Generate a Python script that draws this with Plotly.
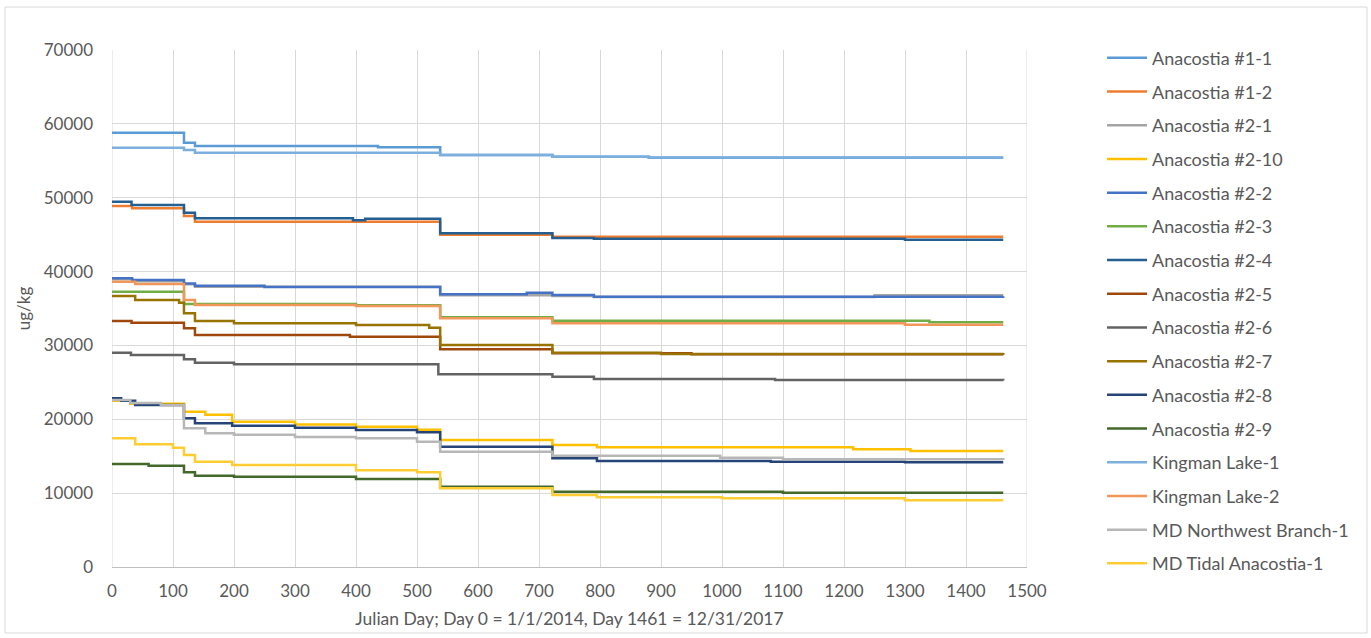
import plotly.graph_objects as go

# Step-wise concentration series (Julian day, ug/kg) for each sampling location
a11_days = [0, 118, 136, 436, 538, 722, 880, 1461]
a11_vals = [58800, 57450, 57000, 56820, 55800, 55550, 55400, 55400]

a12_days = [0, 33, 118, 136, 538, 722, 1461]
a12_vals = [48880, 48560, 47520, 46750, 45000, 44700, 44700]

a21_days = [0, 33, 118, 136, 538, 722, 790, 1250, 1461]
a21_vals = [38950, 38700, 38300, 37950, 36800, 36700, 36550, 36800, 36800]

a210_days = [0, 30, 118, 153, 197, 300, 400, 500, 538, 722, 795, 1215, 1309, 1461]
a210_vals = [22500, 22100, 21030, 20600, 19650, 19300, 19000, 18600, 17200, 16520, 16200, 15950, 15700, 15700]

a22_days = [0, 33, 118, 136, 250, 538, 680, 722, 790, 1461]
a22_vals = [39090, 38860, 38400, 38090, 37900, 36920, 37140, 36830, 36600, 36650]

a23_days = [0, 118, 400, 538, 722, 1340, 1461]
a23_vals = [37280, 35610, 35450, 33800, 33350, 33130, 33130]

a24_days = [0, 32, 118, 136, 395, 415, 538, 722, 790, 1300, 1461]
a24_vals = [49460, 49010, 47970, 47210, 46950, 47150, 45180, 44550, 44450, 44300, 44300]

a25_days = [0, 32, 118, 136, 390, 538, 722, 950, 1461]
a25_vals = [33310, 33080, 32310, 31410, 31180, 29470, 28950, 28800, 28750]

a26_days = [0, 31, 118, 136, 200, 535, 722, 790, 1087, 1461]
a26_vals = [29020, 28700, 28120, 27660, 27440, 26090, 25770, 25450, 25320, 25250]

a27_days = [0, 38, 110, 118, 136, 200, 400, 520, 538, 722, 900, 1461]
a27_vals = [36690, 36150, 35790, 34350, 33310, 33000, 32760, 32400, 30060, 29020, 28840, 28840]

a28_days = [0, 15, 38, 118, 136, 197, 300, 400, 500, 538, 722, 795, 1080, 1300, 1461]
a28_vals = [22840, 22500, 21930, 20130, 19460, 19140, 18860, 18550, 18240, 16290, 14710, 14350, 14260, 14170, 14170]

a29_days = [0, 60, 118, 136, 200, 400, 538, 722, 1100, 1461]
a29_vals = [13950, 13700, 12820, 12360, 12230, 11910, 10870, 10200, 10040, 10040]

kl1_days = [0, 118, 136, 538, 722, 880, 1461]
kl1_vals = [56770, 56460, 56100, 55800, 55550, 55450, 55450]

kl2_days = [0, 38, 118, 136, 400, 538, 722, 1300, 1461]
kl2_vals = [38630, 38320, 36150, 35470, 35340, 33670, 33000, 32800, 32800]

mdnw_days = [0, 30, 80, 118, 153, 200, 300, 400, 500, 538, 722, 997, 1100, 1461]
mdnw_vals = [22610, 22200, 21900, 18780, 18100, 17900, 17600, 17420, 16970, 15610, 15070, 14800, 14580, 14500]

mdta_days = [0, 38, 100, 118, 136, 197, 400, 500, 538, 722, 795, 1000, 1300, 1461]
mdta_vals = [17420, 16610, 16160, 15160, 14260, 13810, 13100, 12820, 10650, 9750, 9440, 9300, 9050, 9050]

series_names = [
    "Anacostia #1-1", "Anacostia #1-2", "Anacostia #2-1", "Anacostia #2-10",
    "Anacostia #2-2", "Anacostia #2-3", "Anacostia #2-4", "Anacostia #2-5",
    "Anacostia #2-6", "Anacostia #2-7", "Anacostia #2-8", "Anacostia #2-9",
    "Kingman Lake-1", "Kingman Lake-2", "MD Northwest Branch-1", "MD Tidal Anacostia-1",
]
series_days = [a11_days, a12_days, a21_days, a210_days, a22_days, a23_days, a24_days,
               a25_days, a26_days, a27_days, a28_days, a29_days, kl1_days, kl2_days,
               mdnw_days, mdta_days]
series_vals = [a11_vals, a12_vals, a21_vals, a210_vals, a22_vals, a23_vals, a24_vals,
               a25_vals, a26_vals, a27_vals, a28_vals, a29_vals, kl1_vals, kl2_vals,
               mdnw_vals, mdta_vals]
series_colors = [
    "#5B9BD5", "#ED7D31", "#A5A5A5", "#FFC000", "#4472C4", "#70AD47",
    "#255E91", "#9E480E", "#636363", "#997300", "#264478", "#43682B",
    "#7CAFDD", "#F1975A", "#B7B7B7", "#FFCD33",
]

FONT = "Lato"
TEXT = "#595959"
GRID = "#D9D9D9"

fig = go.Figure()
for name, days, vals, color in zip(series_names, series_days, series_vals, series_colors):
    fig.add_trace(go.Scatter(
        x=days, y=vals, mode="lines", name=name, legendgroup=name,
        line=dict(color=color, width=2.5, shape="hv"),
    ))

fig.update_layout(
    width=1371, height=638,
    margin=dict(l=112, r=344, t=50, b=71),
    paper_bgcolor="white", plot_bgcolor="white",
    font=dict(family=FONT, color=TEXT, size=17),
    showlegend=True,
    legend=dict(
        x=1.082, xanchor="left", y=1.02, yanchor="top",
        font=dict(family=FONT, size=18, color=TEXT),
        tracegroupgap=7.3, itemwidth=40,
        maxheight=620,
        bgcolor="rgba(0,0,0,0)",
    ),
    xaxis=dict(
        range=[0, 1500], dtick=100, tick0=0,
        showgrid=True, gridcolor=GRID, gridwidth=1,
        zeroline=False, showline=True, linecolor="#BFBFBF", linewidth=1,
        ticks="", tickfont=dict(family=FONT, size=17, color=TEXT),
        ticklabelstandoff=9,
        title=dict(text="Julian Day; Day 0 = 1/1/2014, Day 1461 = 12/31/2017",
                   font=dict(family=FONT, size=17.5, color=TEXT), standoff=12),
    ),
    yaxis=dict(
        range=[0, 70000], dtick=10000, tick0=0, tickformat="d",
        showgrid=True, gridcolor=GRID, gridwidth=1,
        zeroline=False, showline=False,
        ticks="", tickfont=dict(family=FONT, size=17, color=TEXT),
        ticklabelstandoff=18,
        title=dict(text="ug/kg", font=dict(family=FONT, size=17, color=TEXT), standoff=8),
    ),
    shapes=[
        dict(type="rect", xref="paper", yref="paper",
             x0=-107 / 915, x1=1255 / 915, y0=-66 / 517, y1=43 / 517 + 1,
             line=dict(color=GRID, width=1), fillcolor="rgba(0,0,0,0)", layer="below"),
        dict(type="line", xref="x", yref="paper", x0=0, x1=0, y0=0, y1=1,
             line=dict(color=GRID, width=1), layer="below"),
        dict(type="line", xref="x", yref="paper", x0=1500, x1=1500, y0=0, y1=1,
             line=dict(color=GRID, width=1), layer="below"),
    ],
)

fig.write_html("out.html")
